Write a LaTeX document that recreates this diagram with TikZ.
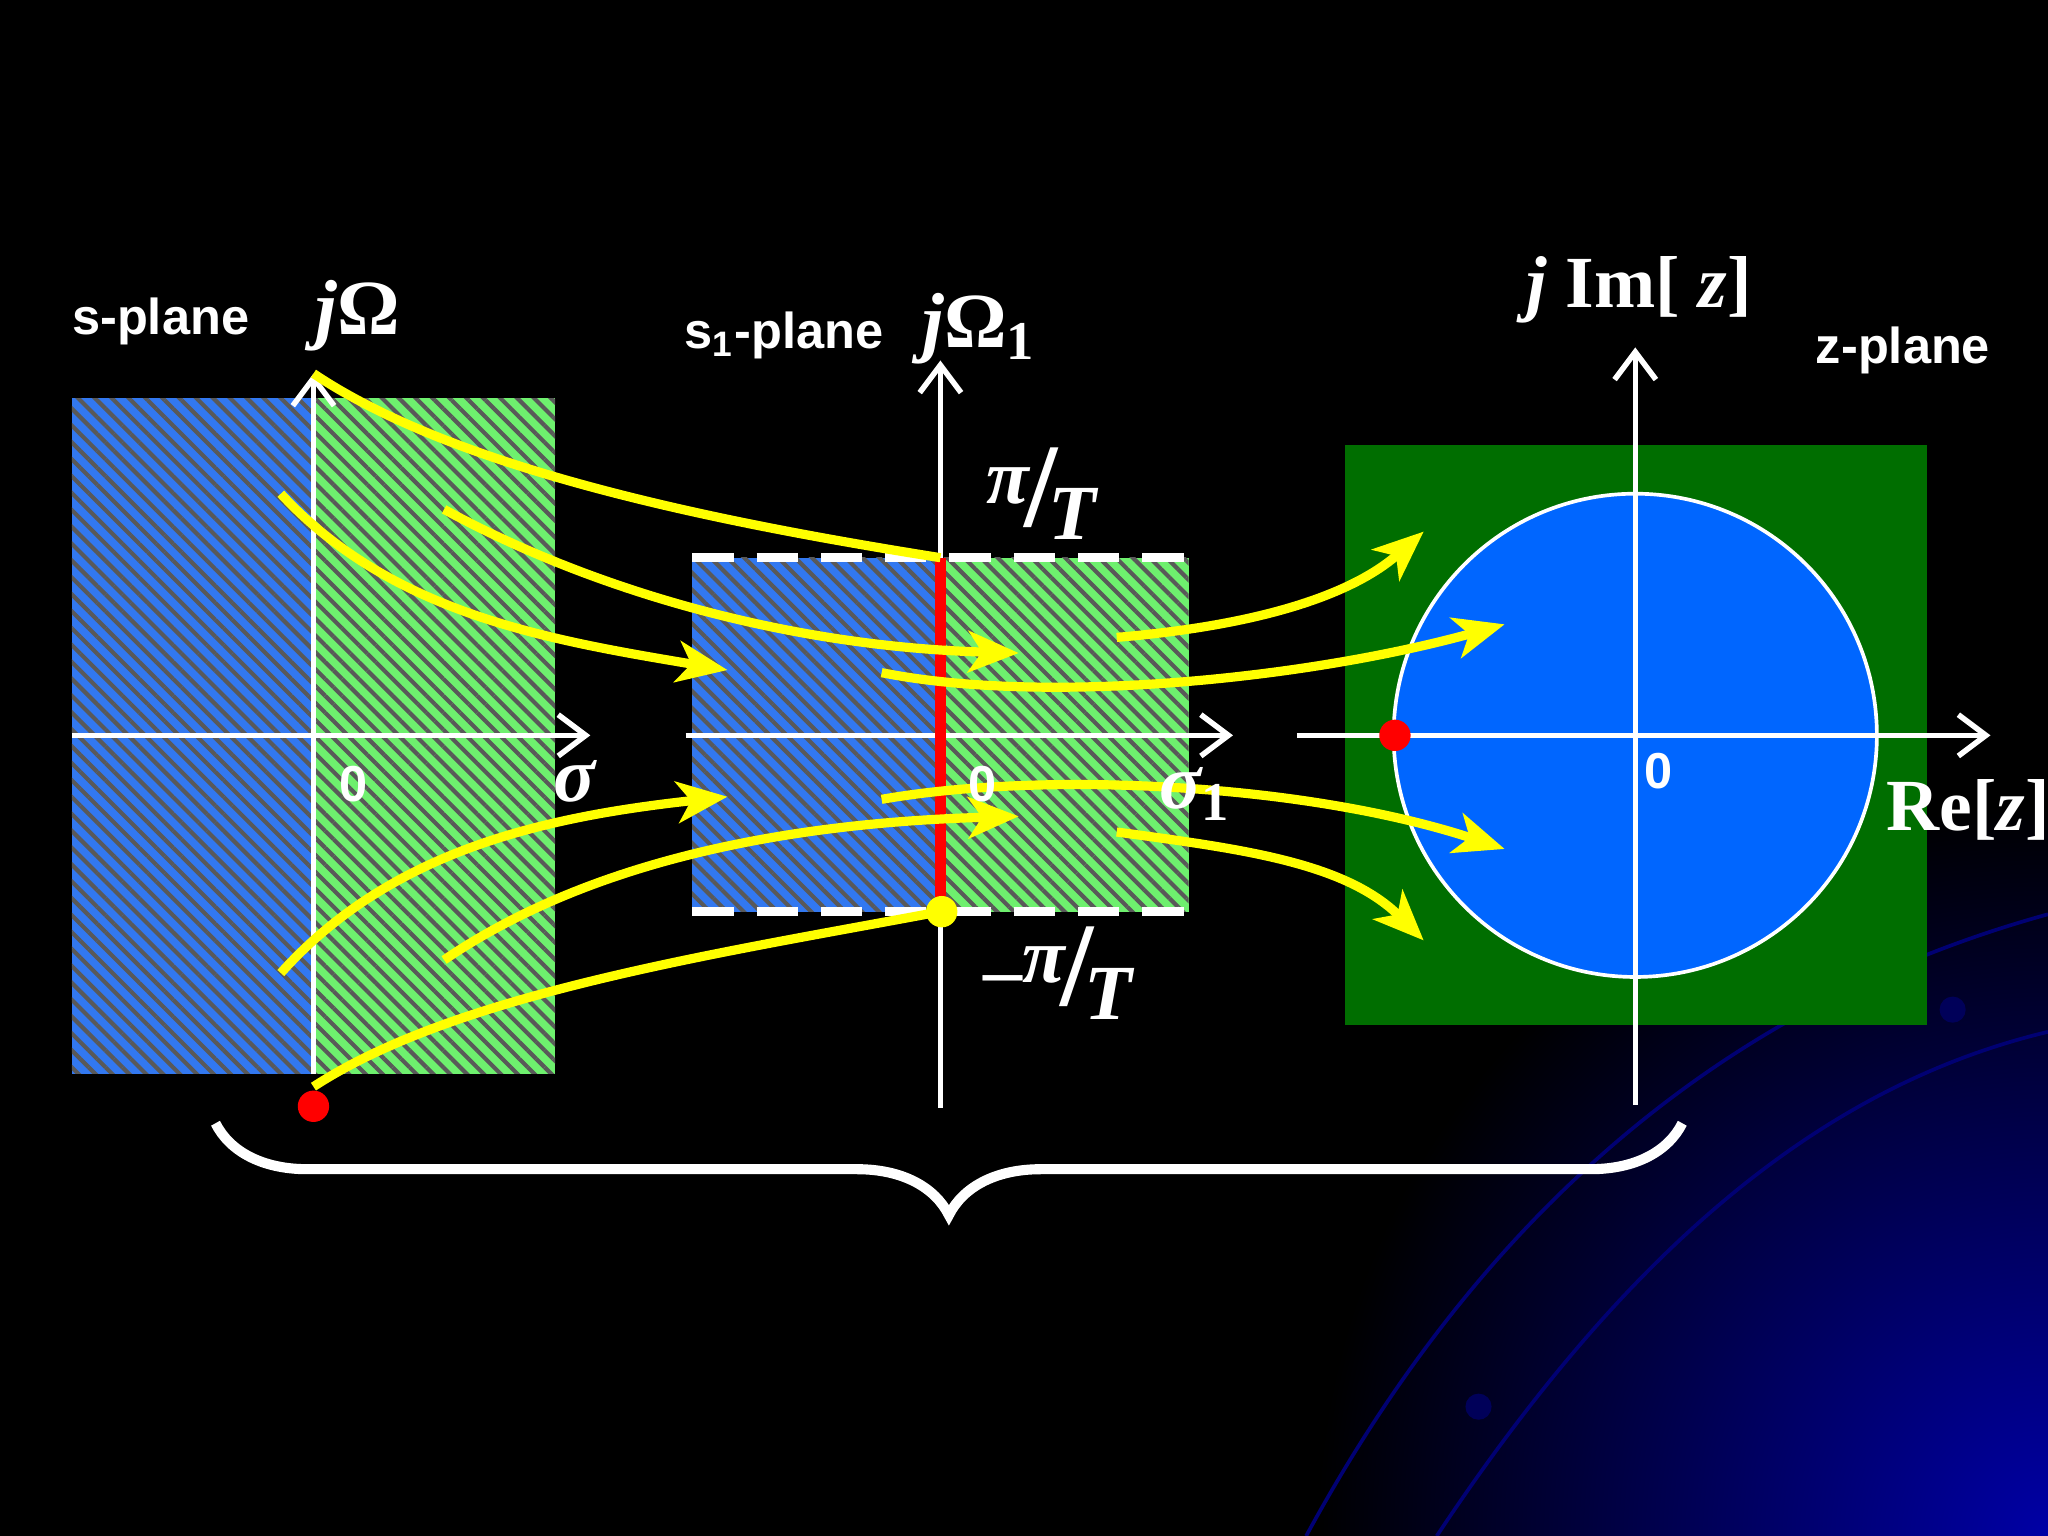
\documentclass[tikz,border=0pt]{standalone}
\usepackage{fontspec}
\setsansfont{Liberation Sans}
\setmainfont{Liberation Serif}
\usetikzlibrary{patterns.meta,arrows.meta,decorations.pathreplacing}
\definecolor{pblue}{RGB}{50,120,240}
\definecolor{pgreen}{RGB}{110,240,110}
\definecolor{zgreen}{RGB}{0,110,0}
\definecolor{zblue}{RGB}{0,102,255}
\definecolor{yl}{RGB}{255,255,0}
\tikzset{
  P/.style={x=0.01cm,y=-0.01cm},
  ax/.style={white,line width=1.2pt,-{Straight Barb[length=6pt,width=9pt]}},
  ya/.style={yl,line width=2pt,-{Stealth[length=11pt,width=9pt,inset=3pt]}},
  yn/.style={yl,line width=2pt},
  lab/.style={white,font=\sffamily\bfseries\fontsize{11}{13}\selectfont},
  mth/.style={white,inner sep=1pt,font=\rmfamily\bfseries\itshape\fontsize{17}{19}\selectfont},
  hatch/.style={pattern={Lines[angle=-45,distance=2.6pt,line width=0.9pt]},pattern color=black!65},
  dot/.style={circle,inner sep=0pt,minimum size=0.24cm},
}
\begin{document}
\begin{tikzpicture}[P]
\useasboundingbox (0,0) rectangle (1568,1176);
\fill[black] (0,0) rectangle (1568,1176);
\begin{scope}
\clip (0,0) rectangle (1568,1176);
\shade[inner color=blue!65!black,outer color=black] (1568,1176) circle (560);
\draw[blue!45!black,line width=0.8pt] (1000,1176) .. controls (1150,900) and (1350,760) .. (1568,700);
\draw[blue!45!black,line width=0.8pt] (1100,1176) .. controls (1250,950) and (1400,830) .. (1568,790);
\fill[blue!35!black] (1495,773) circle (10);
\fill[blue!35!black] (1132,1077) circle (10);
\end{scope}
% s-plane
\fill[pblue] (55,305) rectangle (240,822);
\fill[pgreen] (240,305) rectangle (425,822);
\fill[hatch] (55,305) rectangle (425,822);
% s1-plane
\fill[pblue] (530,427) rectangle (720,698);
\fill[pgreen] (720,427) rectangle (910,698);
\fill[hatch] (530,427) rectangle (910,698);
\draw[white,line width=2pt,dash pattern=on 9pt off 5pt] (530,427) -- (910,427) (530,698) -- (910,698);
% z-plane
\fill[zgreen] (1030,341) rectangle (1475,785);
\draw[white,fill=zblue,line width=0.8pt] (1252,563) circle (185);
% axes
\coordinate (sx0) at (55,563); \coordinate (sx1) at (452,563);
\coordinate (sy0) at (240,822); \coordinate (sy1) at (240,286);
\draw[ax] (sx0) -- (sx1); \draw[ax] (sy0) -- (sy1);
\coordinate (mx0) at (525,563); \coordinate (mx1) at (944,563);
\coordinate (my0) at (720,848); \coordinate (my1) at (720,276);
\draw[ax] (mx0) -- (mx1); \draw[ax] (my0) -- (my1);
\coordinate (zx0) at (993,563); \coordinate (zx1) at (1524,563);
\coordinate (zy0) at (1252,846); \coordinate (zy1) at (1252,266);
\draw[ax] (zx0) -- (zx1); \draw[ax] (zy0) -- (zy1);
\coordinate (rt) at (720,427); \coordinate (rb) at (720,698);
\draw[red,line width=2.5pt] (rt) -- (rb);
% yellow curves
\draw[yn] (sy1) .. controls (350,360) and (550,400) .. (rt);
\draw[ya] (215,378) .. controls (300,470) and (420,490) .. (557,513);
\draw[ya] (340,390) .. controls (450,450) and (600,495) .. (780,500);
\draw[ya] (855,488) .. controls (950,480) and (1030,460) .. (1090,407);
\draw[ya] (675,515) .. controls (800,540) and (1000,520) .. (1152,478);
\draw[ya] (215,745) .. controls (300,650) and (420,625) .. (557,610);
\draw[ya] (340,735) .. controls (450,660) and (600,630) .. (780,625);
\draw[yn] (240,832) .. controls (350,760) and (550,730) .. (rb);
\draw[ya] (675,612) .. controls (800,590) and (1000,600) .. (1152,650);
\draw[ya] (855,637) .. controls (950,650) and (1030,660) .. (1090,720);
% dots
\node[dot,fill=red] (d1) at (240,847) {};
\node[dot,fill=yl] (d2) at (721,698) {};
\node[dot,fill=red] (d3) at (1068,563) {};
% labels
\node[lab] (l1) at (123,246) {s-plane};
\node[mth] (l2) at (274,242) {j{\upshape Ω}};
\node[lab] (l3) at (271,600) {0};
\node[mth] (l4) at (440,598) {σ};
\node[lab] (l5) at (600,257) {s\textsubscript{1}-plane};
\node[mth] (l6) at (750,252) {j{\upshape Ω}\textsubscript{\upshape 1}};
\node[mth] (l7) at (797,378) {\raisebox{5pt}{π}\kern-1pt{\fontsize{26}{26}\selectfont\upshape/}\kern-2pt\raisebox{-3pt}{T}};
\node[mth] (l8) at (810,745) {\raisebox{2pt}{\upshape–}\raisebox{5pt}{π}\kern-1pt{\fontsize{26}{26}\selectfont\upshape/}\kern-2pt\raisebox{-3pt}{T}};
\node[lab] (l9) at (752,600) {0};
\node[mth] (l10) at (915,608) {σ\textsubscript{\upshape 1}};
\node[mth,font=\rmfamily\bfseries\fontsize{16}{18}\selectfont] (l11) at (1255,222) {\textit{j} Im[ \textit{z}]};
\node[lab] (l12) at (1457,268) {z-plane};
\node[lab] (l13) at (1270,590) {0};
\node[mth,font=\rmfamily\bfseries\fontsize{16}{18}\selectfont] (l14) at (1507,620) {Re[\textit{z}]};
% brace
\coordinate (b0) at (165,860); \coordinate (b1) at (1288,860);
\draw[white,line width=2.2pt,decorate,decoration={brace,mirror,amplitude=20pt}] (b0) -- (b1);
\end{tikzpicture}
\end{document}
